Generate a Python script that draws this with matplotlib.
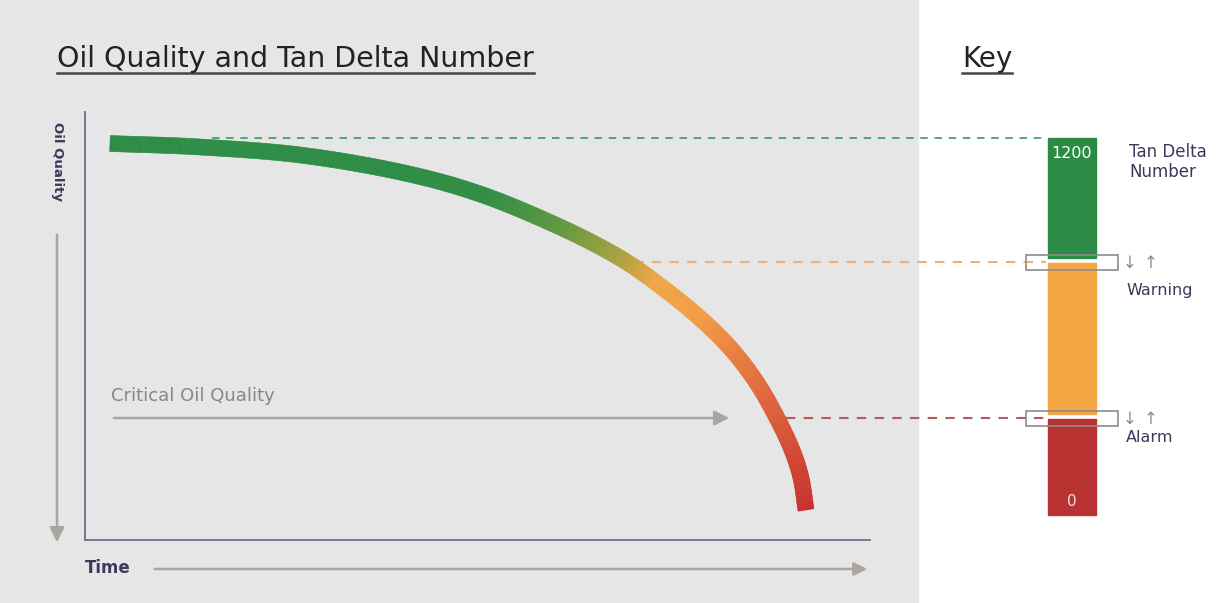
import numpy as np
import matplotlib
matplotlib.use("Agg")
import matplotlib.pyplot as plt
from matplotlib.patches import Rectangle
from matplotlib.collections import PolyCollection
from matplotlib.colors import LinearSegmentedColormap

# oil quality curve (time -> quality), figure pixel space
curve_time = [110, 200, 300, 400, 480, 560, 620, 663, 702, 732, 757, 777, 792, 801, 806]
curve_quality = [143.5, 147, 155, 172, 194, 227, 258, 288, 320, 350, 383, 418, 450, 478, 510]

# key bar levels (pixel rows of the tan delta scale)
key_top = 138        # 1200
key_warning = 262
key_alarm = 418
key_bottom = 515     # 0
key_labels = ["1200", "0"]
level_names = ["Tan Delta\nNumber", "Warning", "Alarm"]

green = "#2b8a43"
orange = "#f4a644"
red = "#b83232"
navy = "#3b3a5c"
grey = "#aaa69f"

W, H = 1227, 603
fig = plt.figure(figsize=(W / 100, H / 100), dpi=100)
fig.patch.set_facecolor("white")
ax = fig.add_axes([0, 0, 1, 1])
ax.set_xlim(0, W)
ax.set_ylim(H, 0)
ax.axis("off")

ax.add_patch(Rectangle((0, 0), 918, H, color="#e6e6e6", zorder=0))

# title + key heading with underline
def underlined(x, y, s, size):
    t = ax.text(x, y, s, fontsize=size, color="#222222", va="center", ha="left")
    fig.canvas.draw()
    bb = t.get_window_extent().transformed(ax.transData.inverted())
    ax.plot([bb.x0, bb.x1], [73, 73], color="#4a4440", lw=1.8)

underlined(57, 59, "Oil Quality and Tan Delta Number", 20.5)
underlined(962, 59, "Key", 20)

# axes lines
ax.plot([85, 85], [112, 540], color="#7a7490", lw=1.4)
ax.plot([85, 870], [540, 540], color="#7a7490", lw=1.4)

ax.text(57, 161, "Oil Quality", rotation=-90, fontsize=9.5, fontweight="bold",
        color=navy, ha="center", va="center")
ax.annotate("", xy=(57, 545), xytext=(57, 232),
            arrowprops=dict(arrowstyle="-|>", color=grey, lw=1.8, mutation_scale=22))
ax.text(85, 568, "Time", fontsize=12, fontweight="bold", color=navy, va="center")
ax.annotate("", xy=(870, 569), xytext=(152, 569),
            arrowprops=dict(arrowstyle="-|>", color=grey, lw=1.8, mutation_scale=20))

ax.text(111, 396, "Critical Oil Quality", fontsize=13, color="#8a8680", va="center")
ax.annotate("", xy=(732, 418), xytext=(111, 418),
            arrowprops=dict(arrowstyle="-|>", color=grey, lw=1.8, mutation_scale=22))

# dashed guide lines
ax.plot([212, 1046], [key_top, key_top], color="#3c9a58", lw=1.2, ls=(0, (4.5, 4)))
ax.plot([634, 1046], [key_warning, key_warning], color="#f0b070", lw=1.5, ls=(0, (4.5, 4)))
ax.plot([786, 1046], [key_alarm, key_alarm], color="#b85a5a", lw=1.5, ls=(0, (4.5, 4)))

# gradient curve: smooth path through the points (Catmull-Rom), drawn as quads
P = np.column_stack([curve_time, curve_quality]).astype(float)
P = np.vstack([2 * P[0] - P[1], P, 2 * P[-1] - P[-2]])
t = np.linspace(0, 1, 40, endpoint=False)[:, None]
path = []
for i in range(1, len(P) - 2):
    p0, p1, p2, p3 = P[i - 1], P[i], P[i + 1], P[i + 2]
    path.append(0.5 * (2 * p1 + (p2 - p0) * t + (2 * p0 - 5 * p1 + 4 * p2 - p3) * t ** 2
                       + (3 * p1 - p0 - 3 * p2 + p3) * t ** 3))
path.append(P[-2][None, :])
path = np.vstack(path)
xx, yy = path[:, 0], path[:, 1]
ss = np.concatenate([[0], np.cumsum(np.hypot(np.diff(xx), np.diff(yy)))])
dx = np.gradient(xx)
dy = np.gradient(yy)
n = np.hypot(dx, dy)
nx, ny = -dy / n, dx / n
half = 8.0
lx, ly = xx + nx * half, yy + ny * half
rx, ry = xx - nx * half, yy - ny * half
quads = [[(lx[i], ly[i]), (lx[i + 1], ly[i + 1]), (rx[i + 1], ry[i + 1]), (rx[i], ry[i])]
         for i in range(len(xx) - 1)]
cmap = LinearSegmentedColormap.from_list("oil", [
    (0.0, "#2c8c46"), (0.45, "#2f8d45"), (0.54, "#5f9840"), (0.62, "#a9a23f"),
    (0.67, "#f2a545"), (0.74, "#f39c45"), (0.80, "#e97d3e"), (0.88, "#dc5d38"),
    (1.0, "#c8302e")])
cols = cmap((ss[:-1] + ss[1:]) / 2 / ss[-1])
pc = PolyCollection(quads, facecolors=cols, edgecolors=cols, linewidths=0.4, zorder=3)
ax.add_collection(pc)

# key bar
bx, bw = 1048, 48
ax.add_patch(Rectangle((bx, key_top), bw, key_warning - 4 - key_top, color=green))
ax.add_patch(Rectangle((bx, key_warning + 1), bw, key_alarm - 4 - key_warning - 1, color=orange))
ax.add_patch(Rectangle((bx, key_alarm + 1), bw, key_bottom - key_alarm - 1, color=red))
for lv in [key_warning, key_alarm]:
    ax.add_patch(Rectangle((1026, lv - 7), 92, 15, fill=False, edgecolor="#8c8c8c",
                           lw=1.2, zorder=4))
    ax.text(1130, lv + 1, "\u2193", fontsize=12, color="#8c8c8c", ha="center", va="center")
    ax.text(1151, lv + 1, "\u2191", fontsize=12, color="#8c8c8c", ha="center", va="center")

ax.text(bx + bw / 2, 153, key_labels[0], fontsize=11.5, color="white", ha="center", va="center")
ax.text(bx + bw / 2, 501, key_labels[1], fontsize=11, color="#f0e0e0", ha="center", va="center")
ax.text(1129, 162, level_names[0], fontsize=12, color=navy, va="center", linespacing=1.15)
ax.text(1126, 290, level_names[1], fontsize=11.5, color=navy, va="center")
ax.text(1126, 438, level_names[2], fontsize=11.5, color=navy, va="center")

fig.savefig("out.png", dpi=100)
